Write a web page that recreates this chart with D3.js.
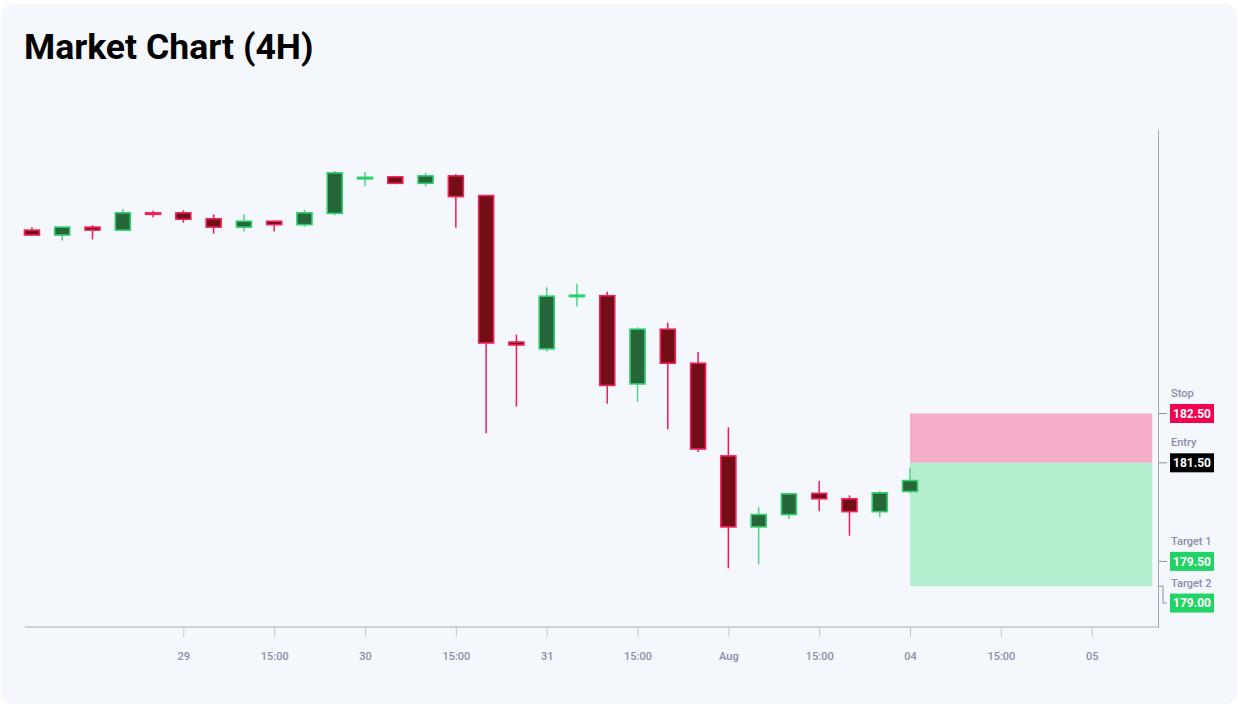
<!DOCTYPE html>
<html>
<head>
<meta charset="utf-8">
<script src="https://cdn.jsdelivr.net/npm/d3@7"></script>
<style>
  html, body { margin: 0; padding: 0; background: #ffffff; }
  body { width: 1238px; height: 707px; overflow: hidden; font-family: Roboto, "Noto Sans", sans-serif; }
  #card { position: absolute; left: 1px; top: 4px; width: 1236px; height: 700px; background: #f4f7fc; border-radius: 12px; }
  h1 { position: absolute; left: 24px; top: 30px; margin: 0; font-size: 35.6px; font-weight: 700; color: #000; line-height: 1; }
  #chart-area { position: absolute; left: 0; top: 0; }
</style>
</head>
<body>
<div id="card"></div>
<h1>Market Chart (4H)</h1>
<div id="chart-area"></div>
<script>
// 1. Data (4H candles, index 0..29)
var opens  = [186.22, 186.12, 186.28, 186.22, 186.57, 186.57, 186.45, 186.28, 186.40, 186.33,
              186.56, 187.26, 187.30, 187.17, 187.32, 186.92, 183.95, 183.81, 184.87, 184.89,
              183.10, 184.21, 183.52, 181.64, 180.20, 180.45, 180.88, 180.77, 180.51, 180.92];
var highs  = [186.28, 186.29, 186.32, 186.65, 186.61, 186.62, 186.54, 186.54, 186.41, 186.63,
              187.42, 187.40, 187.30, 187.38, 187.36, 186.93, 184.10, 185.06, 185.13, 184.97,
              184.25, 184.34, 183.75, 182.22, 180.60, 180.89, 181.13, 180.84, 180.93, 181.40];
var lows   = [186.10, 186.01, 186.03, 186.21, 186.48, 186.37, 186.15, 186.19, 186.19, 186.29,
              186.52, 187.11, 187.15, 187.11, 186.27, 182.10, 182.64, 183.76, 184.67, 182.70,
              182.74, 182.18, 181.72, 179.36, 179.44, 180.36, 180.52, 180.02, 180.40, 180.89];
var closes = [186.12, 186.28, 186.22, 186.57, 186.54, 186.44, 186.28, 186.40, 186.33, 186.57,
              187.38, 187.29, 187.17, 187.32, 186.90, 183.93, 183.89, 184.88, 184.90, 183.07,
              184.21, 183.52, 181.78, 180.20, 180.45, 180.87, 180.77, 180.51, 180.89, 181.14];

var tickIndex  = [5, 8, 11, 14, 17, 20, 23, 26, 29, 32, 35];
var tickLabels = ["29", "15:00", "30", "15:00", "31", "15:00", "Aug", "15:00", "04", "15:00", "05"];

var levelNames  = ["Stop", "Entry", "Target 1", "Target 2"];
var levelPrices = [182.50, 181.50, 179.50, 179.00];
var levelColors = ["#f5004f", "#000000", "#22d465", "#22d465"];

var zoneStart = 29, zoneEnd = 37;

var candles = opens.map(function (o, i) {
    return { i: i, open: o, high: highs[i], low: lows[i], close: closes[i] };
});

// 2. SVG
var svg = d3.select("#chart-area").append("svg")
    .attr("width", 1238)
    .attr("height", 707);

// 3. Scales
var x = d3.scaleLinear().domain([-0.23, 37.19]).range([25, 1158]);
var y = d3.scaleLinear().domain([178.17, 188.25]).range([627, 130]);

// 4. Trade zone
var entry = levelPrices[1];
svg.append("rect")
    .attr("x", x(zoneStart)).attr("width", x(zoneEnd) - x(zoneStart))
    .attr("y", y(levelPrices[0])).attr("height", y(entry) - y(levelPrices[0]))
    .attr("fill", "#f5adc9");
svg.append("rect")
    .attr("x", x(zoneStart)).attr("width", x(zoneEnd) - x(zoneStart))
    .attr("y", y(entry)).attr("height", y(levelPrices[3]) - y(entry))
    .attr("fill", "#b3eecf");

// 5. Axes
var xAxis = svg.append("g")
    .attr("transform", "translate(0,627)")
    .call(d3.axisBottom(x).tickValues(tickIndex).tickSize(10).tickPadding(15)
        .tickFormat(function (d, i) { return tickLabels[i]; }));
xAxis.select(".domain").attr("stroke", "#c4c7d2").attr("stroke-width", 1.5)
    .attr("d", "M25,0H1158");
xAxis.selectAll(".tick line").attr("stroke", "#c4c7d2");
xAxis.selectAll(".tick text").attr("fill", "#8a8eaa").attr("font-size", "11px")
    .attr("font-weight", 500)
    .attr("font-family", "Roboto, sans-serif");

svg.append("line")
    .attr("x1", 1158.5).attr("x2", 1158.5).attr("y1", 130).attr("y2", 628)
    .attr("stroke", "#a3a6b4").attr("stroke-width", 1);

// 6. Candles
var up = function (d) { return d.close >= d.open; };
var bw = 15;

var cg = svg.append("g").attr("class", "candles");
cg.selectAll("line.wick").data(candles).enter().append("line")
    .attr("class", "wick")
    .attr("x1", function (d) { return x(d.i); })
    .attr("x2", function (d) { return x(d.i); })
    .attr("y1", function (d) { return y(d.high); })
    .attr("y2", function (d) { return y(d.low); })
    .attr("stroke", function (d) { return up(d) ? "#4fd386" : "#f5175a"; })
    .attr("stroke-width", 1.5);

cg.selectAll("rect.body").data(candles).enter().append("rect")
    .attr("class", "body")
    .attr("x", function (d) { return x(d.i) - bw / 2; })
    .attr("width", bw)
    .attr("y", function (d) { return y(Math.max(d.open, d.close)); })
    .attr("height", function (d) { return Math.max(1, Math.abs(y(d.open) - y(d.close))); })
    .attr("fill", function (d) { return up(d) ? "#276638" : "#730d16"; })
    .attr("stroke", function (d) { return up(d) ? "#2fcf6c" : "#f0245c"; })
    .attr("stroke-width", 1.6);

// 7. Level labels on the right axis
var labelY = levelPrices.map(function (p) { return y(p); });
labelY[3] = labelY[3] + 17; // pushed down to avoid overlap with Target 1

var lg = svg.append("g").attr("class", "levels");
levelPrices.forEach(function (p, i) {
    var ty = y(p), ly = labelY[i];
    var path = "M1159," + ty + "H1163";
    if (ly !== ty) path += "V" + ly + "H1167";
    else path += "H1167";
    lg.append("path").attr("d", path).attr("fill", "none")
        .attr("stroke", "#8c90a8").attr("stroke-width", 1);

    lg.append("text")
        .attr("x", 1171).attr("y", ly - 16.5)
        .attr("font-size", "11px").attr("font-weight", 500).attr("fill", "#8a8eaa")
        .attr("font-family", "Roboto, sans-serif")
        .text(levelNames[i]);

    lg.append("rect")
        .attr("x", 1170).attr("y", ly - 9.5)
        .attr("width", 44).attr("height", 19)
        .attr("fill", levelColors[i]);

    lg.append("text")
        .attr("x", 1192).attr("y", ly + 4.3)
        .attr("text-anchor", "middle")
        .attr("font-size", "12px").attr("font-weight", 700).attr("fill", "#ffffff")
        .attr("font-family", "Roboto, sans-serif")
        .text(p.toFixed(2));
});
</script>
</body>
</html>
